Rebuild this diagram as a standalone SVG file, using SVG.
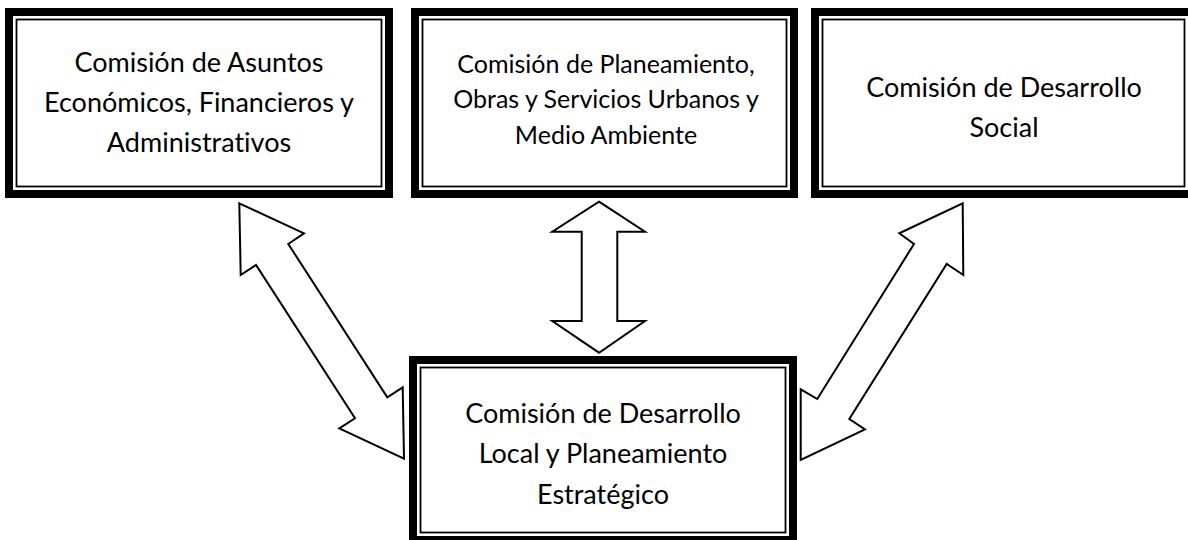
<svg xmlns="http://www.w3.org/2000/svg" width="1188" height="540" viewBox="0 0 1188 540">
  <style>
    .thick { fill: #fff; stroke: #000; stroke-width: 8; }
    .thin { fill: none; stroke: #000; stroke-width: 1.8; }
    .lbl { font-family: Lato, "Open Sans", "Liberation Sans", sans-serif; font-size: 27px; fill: #000; text-anchor: middle; font-variant-ligatures: none; }
    .sm { font-size: 25px; }
    .arrow { fill: #fff; stroke: #000; stroke-width: 2; stroke-linejoin: miter; }
  </style>
  <rect width="1188" height="540" fill="#fff"/>

  <g id="connectors">
    <polygon class="arrow" points="239.3,203.3 304,233.3 288.3,244 387.3,397.3 402.7,387.3 404,458.7 339.3,428.3 355,418.3 256,265 240.7,275"/>
    <polygon class="arrow" points="599,201.7 645,231.7 617.3,231.7 617.3,321 645,321 599,352.7 552.3,321 581.7,321 581.7,231.7 552.3,231.7"/>
    <polygon class="arrow" points="962.7,203.3 963.3,275 946.7,264 849.3,419 865,429.3 800.7,460 800.7,389.3 817.3,399 914,244 899.3,233.3"/>
  </g>

  <g id="node-economicos">
    <rect class="thick" x="9" y="12" width="380" height="182"/>
    <rect class="thin" x="16.5" y="19.5" width="365" height="167"/>
    <text class="lbl" x="199" y="72">Comisión de Asuntos</text>
    <text class="lbl" x="199" y="112">Económicos, Financieros y</text>
    <text class="lbl" x="199" y="152">Administrativos</text>
  </g>

  <g id="node-planeamiento">
    <rect class="thick" x="415" y="12" width="379" height="182"/>
    <rect class="thin" x="422.5" y="19.5" width="364" height="167"/>
    <text class="lbl sm" x="606" y="73">Comisión de Planeamiento,</text>
    <text class="lbl sm" x="606" y="108">Obras y Servicios Urbanos y</text>
    <text class="lbl sm" x="606" y="144">Medio Ambiente</text>
  </g>

  <g id="node-social">
    <rect class="thick" x="815" y="12" width="377" height="182"/>
    <rect class="thin" x="822.5" y="19.5" width="362" height="167"/>
    <text class="lbl" x="1004" y="97">Comisión de Desarrollo</text>
    <text class="lbl" x="1004" y="137">Social</text>
  </g>

  <g id="node-local">
    <rect class="thick" x="413" y="360" width="380" height="180"/>
    <rect class="thin" x="420.5" y="367.5" width="365" height="165"/>
    <text class="lbl" x="603" y="423">Comisión de Desarrollo</text>
    <text class="lbl" x="603" y="463">Local y Planeamiento</text>
    <text class="lbl" x="603" y="504">Estratégico</text>
  </g>
</svg>
